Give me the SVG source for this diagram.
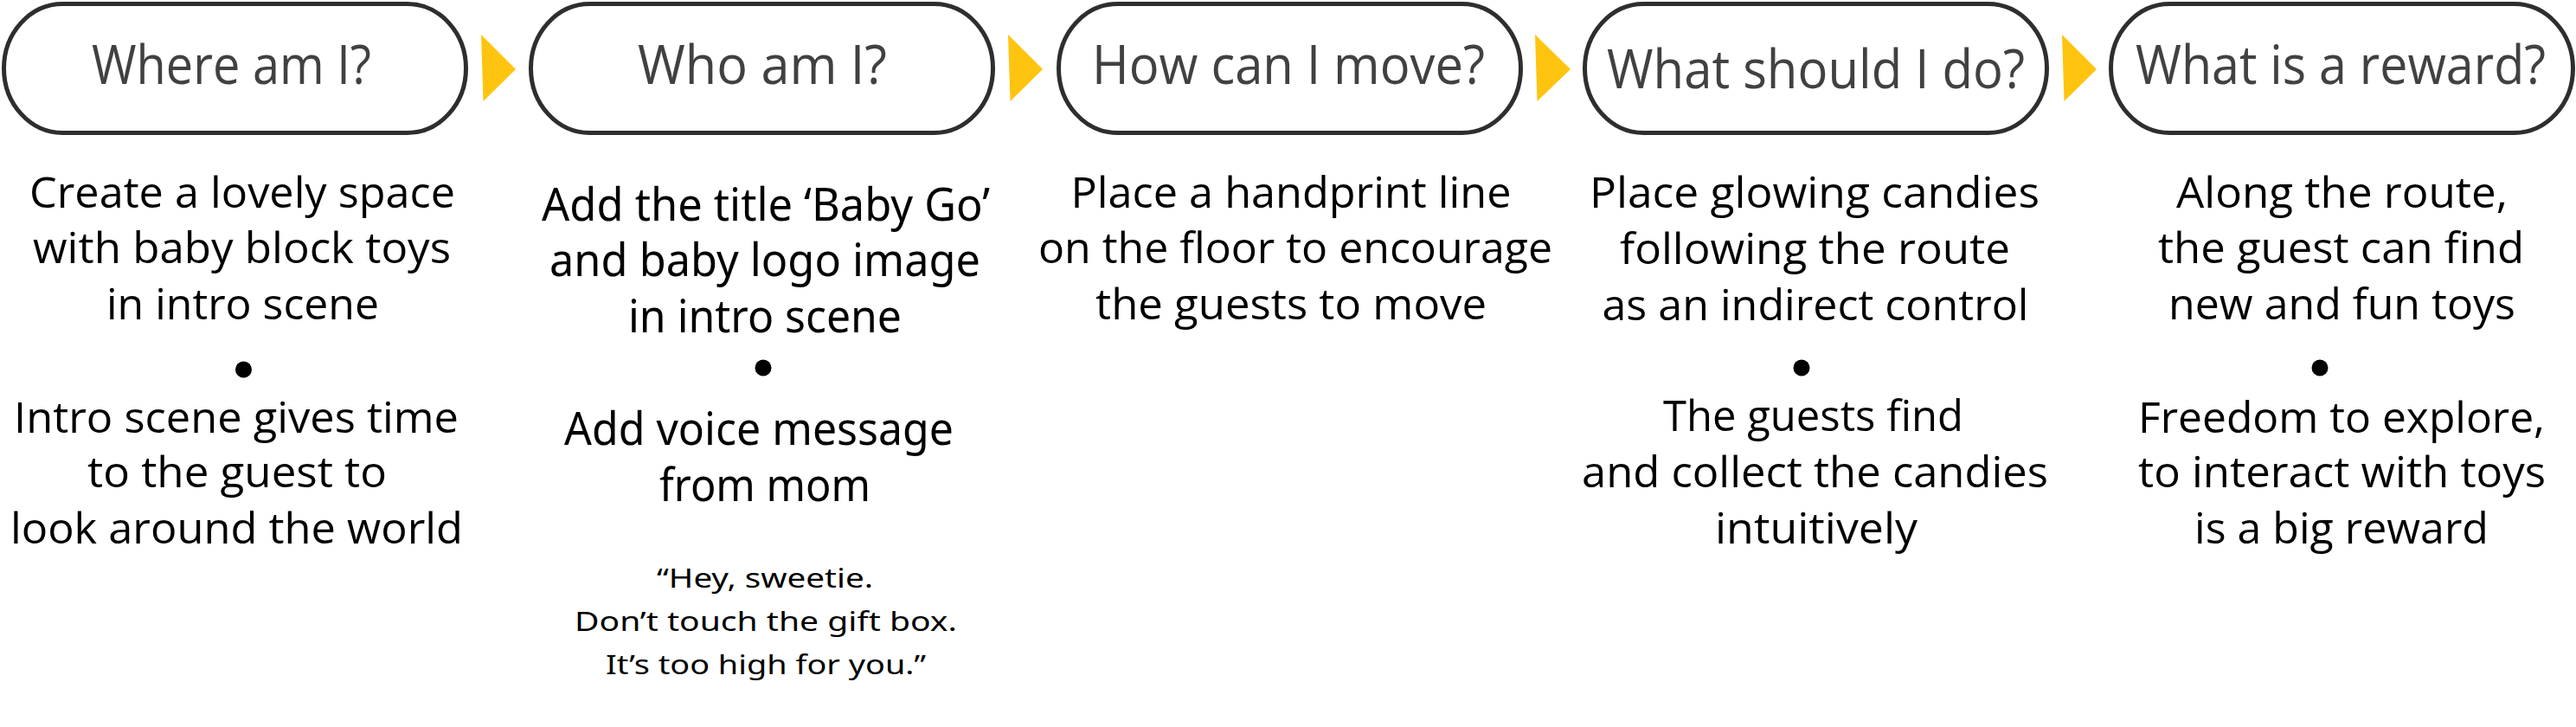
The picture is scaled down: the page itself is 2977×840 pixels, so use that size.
<svg xmlns="http://www.w3.org/2000/svg" width="2977" height="840" viewBox="0 0 2977 840">
<style>
.box{fill:#fff;stroke:#2e2e2e;stroke-width:5}
.arrow{fill:#FFC40F}
.title{font-family:"Open Sans","Liberation Sans",sans-serif;font-size:63px;fill:#414042;text-anchor:middle}
.body{font-family:"Open Sans","Liberation Sans",sans-serif;font-size:49px;fill:#000;text-anchor:middle}
.body2{font-family:"Noto Sans","Liberation Sans",sans-serif;font-size:52px;fill:#000;text-anchor:middle}
.quote{font-family:"Noto Sans","Liberation Sans",sans-serif;font-size:30px;fill:#000;text-anchor:middle}
.bullet{fill:#000}
</style>
<rect width="2977" height="840" fill="#fff"/>
<g id="connectors">
<polygon class="arrow" points="556,40 596,80 558.5,117"/>
<polygon class="arrow" points="1165,40 1205,80 1167.5,117"/>
<polygon class="arrow" points="1774,40 1815,80 1776.5,117"/>
<polygon class="arrow" points="2383,40 2423,80 2385.5,117"/>
</g>
<g id="node1">
<rect class="box" x="4.5" y="4.5" width="534" height="149" rx="68" ry="74.5"/>
<text class="title" x="267.5" y="97" textLength="323" lengthAdjust="spacingAndGlyphs">Where am I?</text>
<text class="body" x="280" y="240" textLength="492" lengthAdjust="spacingAndGlyphs">Create a lovely space</text>
<text class="body" x="279.5" y="304" textLength="483" lengthAdjust="spacingAndGlyphs">with baby block toys</text>
<text class="body" x="280.5" y="369" textLength="315" lengthAdjust="spacingAndGlyphs">in intro scene</text>
<circle class="bullet" cx="281.5" cy="427" r="9.5"/>
<text class="body" x="273" y="500" textLength="514" lengthAdjust="spacingAndGlyphs">Intro scene gives time</text>
<text class="body" x="274" y="563" textLength="346" lengthAdjust="spacingAndGlyphs">to the guest to</text>
<text class="body" x="273.5" y="628" textLength="523" lengthAdjust="spacingAndGlyphs">look around the world</text>
</g>
<g id="node2">
<rect class="box" x="613.5" y="4.5" width="534" height="149" rx="68" ry="74.5"/>
<text class="title" x="881" y="97" textLength="288" lengthAdjust="spacingAndGlyphs">Who am I?</text>
<text class="body2" x="885" y="255" textLength="518" lengthAdjust="spacingAndGlyphs">Add the title ‘Baby Go’</text>
<text class="body2" x="884" y="319" textLength="498" lengthAdjust="spacingAndGlyphs">and baby logo image</text>
<text class="body2" x="884" y="384" textLength="316" lengthAdjust="spacingAndGlyphs">in intro scene</text>
<circle class="bullet" cx="882" cy="425" r="9.5"/>
<text class="body2" x="877" y="514" textLength="450" lengthAdjust="spacingAndGlyphs">Add voice message</text>
<text class="body2" x="884" y="579" textLength="244" lengthAdjust="spacingAndGlyphs">from mom</text>
<text class="quote" x="884" y="679" textLength="250" lengthAdjust="spacingAndGlyphs">“Hey, sweetie.</text>
<text class="quote" x="885" y="729" textLength="442" lengthAdjust="spacingAndGlyphs">Don’t touch the gift box.</text>
<text class="quote" x="885" y="779" textLength="370" lengthAdjust="spacingAndGlyphs">It’s too high for you.”</text>
</g>
<g id="node3">
<rect class="box" x="1223.5" y="4.5" width="534" height="149" rx="68" ry="74.5"/>
<text class="title" x="1489" y="97" textLength="454" lengthAdjust="spacingAndGlyphs">How can I move?</text>
<text class="body" x="1492" y="240" textLength="509" lengthAdjust="spacingAndGlyphs">Place a handprint line</text>
<text class="body" x="1497" y="304" textLength="594" lengthAdjust="spacingAndGlyphs">on the floor to encourage</text>
<text class="body" x="1492" y="369" textLength="452" lengthAdjust="spacingAndGlyphs">the guests to move</text>
</g>
<g id="node4">
<rect class="box" x="1831.5" y="4.5" width="534" height="149" rx="68" ry="74.5"/>
<text class="title" x="2098.5" y="102" textLength="483" lengthAdjust="spacingAndGlyphs">What should I do?</text>
<text class="body" x="2097" y="240" textLength="520" lengthAdjust="spacingAndGlyphs">Place glowing candies</text>
<text class="body" x="2097.5" y="305" textLength="451" lengthAdjust="spacingAndGlyphs">following the route</text>
<text class="body" x="2098" y="370" textLength="493" lengthAdjust="spacingAndGlyphs">as an indirect control</text>
<circle class="bullet" cx="2082" cy="425" r="9.5"/>
<text class="body" x="2095.5" y="498" textLength="347" lengthAdjust="spacingAndGlyphs">The guests find</text>
<text class="body" x="2097.5" y="563" textLength="539" lengthAdjust="spacingAndGlyphs">and collect the candies</text>
<text class="body" x="2099" y="628" textLength="234" lengthAdjust="spacingAndGlyphs">intuitively</text>
</g>
<g id="node5">
<rect class="box" x="2439.5" y="4.5" width="534" height="149" rx="68" ry="74.5"/>
<text class="title" x="2705" y="97" textLength="474" lengthAdjust="spacingAndGlyphs">What is a reward?</text>
<text class="body" x="2706.5" y="240" textLength="383" lengthAdjust="spacingAndGlyphs">Along the route,</text>
<text class="body" x="2705.5" y="304" textLength="423" lengthAdjust="spacingAndGlyphs">the guest can find</text>
<text class="body" x="2706.5" y="369" textLength="401" lengthAdjust="spacingAndGlyphs">new and fun toys</text>
<circle class="bullet" cx="2681" cy="425" r="9.5"/>
<text class="body" x="2706" y="500" textLength="470" lengthAdjust="spacingAndGlyphs">Freedom to explore,</text>
<text class="body" x="2706.5" y="563" textLength="471" lengthAdjust="spacingAndGlyphs">to interact with toys</text>
<text class="body" x="2706" y="628" textLength="340" lengthAdjust="spacingAndGlyphs">is a big reward</text>
</g>
</svg>
